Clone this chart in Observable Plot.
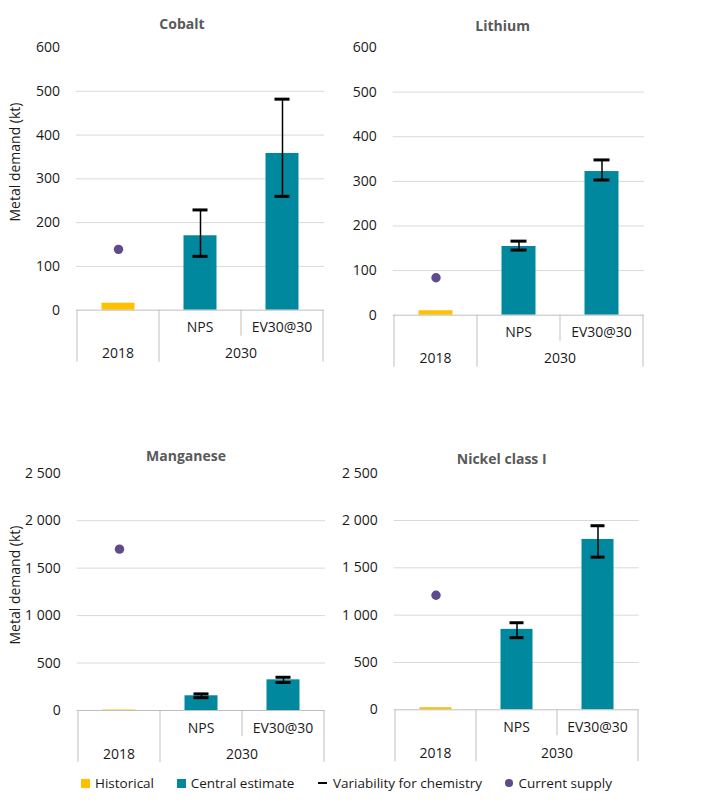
<!DOCTYPE html>
<html><head><meta charset="utf-8">
<script src="https://cdn.jsdelivr.net/npm/d3@7"></script>
<script src="https://cdn.jsdelivr.net/npm/@observablehq/plot@0.6"></script>
<style>
body{margin:0;background:#fff;font-family:"Open Sans",sans-serif;}
#root{position:relative;width:710px;height:809px;overflow:hidden;background:#fff;}
.panel{position:absolute;}
.title{position:absolute;transform:translate(-50%,-50%);font-weight:bold;font-size:14px;color:#595959;white-space:nowrap;}
.ylab{position:absolute;transform:translate(-50%,-50%) rotate(-90deg);font-size:14px;color:#1a1a1a;white-space:nowrap;}
.leg{position:absolute;top:783px;transform:translateY(-50%);font-size:13.5px;color:#1a1a1a;white-space:nowrap;display:flex;align-items:center;}
.sw{display:inline-block;margin-right:5px;}
</style></head><body><div id="root"></div>
<script>
// ---- data ----
const metals = ["Cobalt", "Lithium", "Manganese", "Nickel class I"];
const categories = ["2018", "NPS", "EV30@30"];
const scenarioLabels = ["", "NPS", "EV30@30"];
const yearLabels = ["2018", "2030", "2030"];
const historical2018 = [16, 10, 5, 22];
const centralNPS = [170, 154, 155, 850];
const centralEV30 = [358, 322, 323, 1800];
const npsLow = [123, 146, 135, 762];
const npsHigh = [229, 166, 175, 920];
const ev30Low = [260, 303, 295, 1613];
const ev30High = [482, 348, 350, 1945];
const currentSupply = [139, 84, 1700, 1210];
const yTickValues = [
  [0, 100, 200, 300, 400, 500, 600],
  [0, 100, 200, 300, 400, 500, 600],
  [0, 500, 1000, 1500, 2000, 2500],
  [0, 500, 1000, 1500, 2000, 2500]
];
const seriesNames = ["Historical", "Central estimate", "Variability for chemistry", "Current supply"];
const yAxisLabel = "Metal demand (kt)";

// ---- styles / layout ----
const YELLOW = "#FFC000", TEAL = "#00889E", PURPLE = "#5F4A8B";
const layout = [
  {left: 0,   top: 0,   width: 355, height: 370, mt: 47,   mb: 60.3, ml: 76,   mr: 31,   title: [182, 22.7], ylab: [14, 162]},
  {left: 355, top: 0,   width: 355, height: 370, mt: 47,   mb: 55.3, ml: 37.7, mr: 66,   title: [502.7, 25]},
  {left: 0,   top: 430, width: 355, height: 340, mt: 42.7, mb: 60,   ml: 76.7, mr: 30,   title: [186, 455], ylab: [14, 585]},
  {left: 355, top: 430, width: 355, height: 340, mt: 42.7, mb: 60.7, ml: 38.7, mr: 71.3, title: [501.7, 457.7]}
];
const fmt = d => d3.format(",")(d).replace(/,/g, "\u00a0");

function tableMark(index, scales) {
  const x = scales.x, y = scales.y;
  const bw = typeof x.bandwidth === "function" ? x.bandwidth() : scales.scales.x.bandwidth;
  const y0 = y(0);
  const g = d3.create("svg:g").attr("font-size", 14).attr("fill", "#1a1a1a");
  const starts = categories.map(c => x(c));
  const end = starts[starts.length - 1] + bw;
  const edges = starts.concat([end]);
  edges.forEach((e, i) => {
    const isGroupEdge = i === 0 || i === edges.length - 1 || yearLabels[i] !== yearLabels[i - 1];
    g.append("line").attr("x1", e).attr("x2", e).attr("y1", y0).attr("y2", y0 + (isGroupEdge ? 52 : 26))
      .attr("stroke", "#bfbfbf").attr("stroke-width", 1);
  });
  categories.forEach((c, i) => {
    if (!scenarioLabels[i]) return;
    g.append("text").attr("x", x(c) + bw / 2).attr("y", y0 + 17).attr("text-anchor", "middle")
      .attr("dominant-baseline", "central").text(scenarioLabels[i]);
  });
  const groups = d3.groups(categories.map((c, i) => ({c, year: yearLabels[i]})), d => d.year);
  for (const [year, items] of groups) {
    const a = x(items[0].c), b = x(items[items.length - 1].c) + bw;
    g.append("text").attr("x", (a + b) / 2).attr("y", y0 + 43).attr("text-anchor", "middle")
      .attr("dominant-baseline", "central").text(year);
  }
  return g.node();
}

const root = document.getElementById("root");
metals.forEach((metal, i) => {
  const L = layout[i];
  const ticks = yTickValues[i];
  const ymax = d3.max(ticks);
  const bars = [
    {cat: categories[0], value: historical2018[i], series: seriesNames[0]},
    {cat: categories[1], value: centralNPS[i], series: seriesNames[1]},
    {cat: categories[2], value: centralEV30[i], series: seriesNames[1]}
  ];
  const errs = [
    {cat: categories[1], lo: npsLow[i], hi: npsHigh[i]},
    {cat: categories[2], lo: ev30Low[i], hi: ev30High[i]}
  ];
  const supply = [{cat: categories[0], value: currentSupply[i]}];
  const chart = Plot.plot({
    width: L.width, height: L.height,
    marginTop: L.mt, marginBottom: L.mb, marginLeft: L.ml, marginRight: L.mr,
    x: {type: "band", domain: categories, padding: 0, axis: null},
    y: {domain: [0, ymax], label: null},
    color: {domain: seriesNames.slice(0, 2), range: [YELLOW, TEAL]},
    style: {fontFamily: '"Open Sans", sans-serif', fontSize: "14px", color: "#1a1a1a", background: "white", overflow: "visible"},
    marks: [
      Plot.ruleY(ticks.filter(t => t > 0 && t < ymax), {stroke: "#d9d9d9", strokeWidth: 1}),
      Plot.axisY({ticks, tickSize: 0, tickPadding: 16.5, tickFormat: fmt, fontSize: 14, label: null}),
      Plot.barY(bars, {x: "cat", y: "value", fill: "series", insetLeft: 24.5, insetRight: 24.5}),
      Plot.ruleY([0], {stroke: "#bfbfbf", strokeWidth: 1}),
      Plot.ruleX(errs, {x: "cat", y1: "lo", y2: "hi", stroke: "black", strokeWidth: 1.5}),
      Plot.tickY(errs, {x: "cat", y: "lo", stroke: "black", strokeWidth: 3, inset: 33.5}),
      Plot.tickY(errs, {x: "cat", y: "hi", stroke: "black", strokeWidth: 3, inset: 33.5}),
      Plot.dot(supply, {x: "cat", y: "value", r: 4.7, fill: PURPLE, stroke: "none"}),
      tableMark
    ]
  });
  chart.classList.add("panel");
  chart.style.left = L.left + "px";
  chart.style.top = L.top + "px";
  root.appendChild(chart);
  const t = document.createElement("div");
  t.className = "title";
  t.style.left = L.title[0] + "px";
  t.style.top = L.title[1] + "px";
  t.textContent = metal;
  root.appendChild(t);
  if (L.ylab) {
    const yl = document.createElement("div");
    yl.className = "ylab";
    yl.style.left = L.ylab[0] + "px";
    yl.style.top = L.ylab[1] + "px";
    yl.textContent = yAxisLabel;
    root.appendChild(yl);
  }
});

// legend
const legendPos = [81, 176.7, 318, 505];
const swatches = [
  `<span class="sw" style="width:9px;height:9px;background:${YELLOW}"></span>`,
  `<span class="sw" style="width:9px;height:9px;background:${TEAL}"></span>`,
  `<span class="sw" style="width:9px;height:2.5px;background:#000;margin-right:6px"></span>`,
  `<span class="sw" style="width:7.5px;height:7.5px;border-radius:50%;background:${PURPLE};margin-right:6px"></span>`
];
seriesNames.forEach((name, k) => {
  const d = document.createElement("div");
  d.className = "leg";
  d.style.left = legendPos[k] + "px";
  d.innerHTML = swatches[k] + `<span>${name}</span>`;
  root.appendChild(d);
});
</script>
</body></html>
